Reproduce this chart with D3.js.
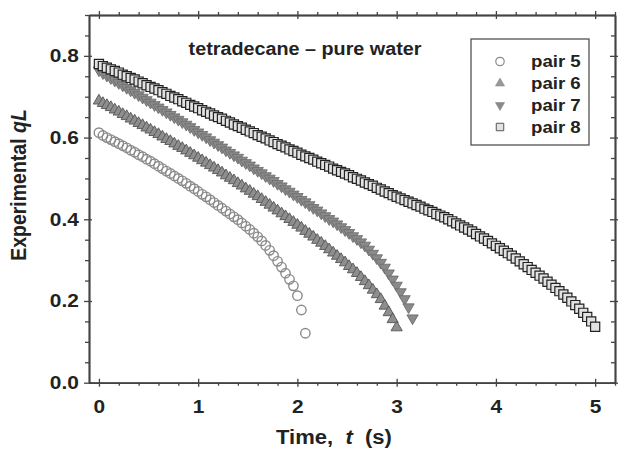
<!DOCTYPE html>
<html><head><meta charset="utf-8">
<script src="https://cdn.jsdelivr.net/npm/d3@7"></script>
<style>
body{margin:0;background:#fff}
svg{display:block}
text{font-family:"Liberation Sans",Arial,sans-serif;font-weight:bold;fill:#222}
</style>
</head><body><svg id="c" width="618" height="454"></svg>
<script>
// time (s), sampled frames
const timeS = [
0,0.04,0.08,0.12,0.16,0.2,0.24,0.28,0.32,0.36,
0.4,0.44,0.48,0.52,0.56,0.6,0.64,0.68,0.72,0.76,
0.8,0.84,0.88,0.92,0.96,1,1.04,1.08,1.12,1.16,
1.2,1.24,1.28,1.32,1.36,1.4,1.44,1.48,1.52,1.56,
1.6,1.64,1.68,1.72,1.76,1.8,1.84,1.88,1.92,1.96,
2,2.04,2.08,2.12,2.16,2.2,2.24,2.28,2.32,2.36,
2.4,2.44,2.48,2.52,2.56,2.6,2.64,2.68,2.72,2.76,
2.8,2.84,2.88,2.92,2.96,3,3.04,3.08,3.12,3.16,
3.2,3.24,3.28,3.32,3.36,3.4,3.44,3.48,3.52,3.56,
3.6,3.64,3.68,3.72,3.76,3.8,3.84,3.88,3.92,3.96,
4,4.04,4.08,4.12,4.16,4.2,4.24,4.28,4.32,4.36,
4.4,4.44,4.48,4.52,4.56,4.6,4.64,4.68,4.72,4.76,
4.8,4.84,4.88,4.92,4.96,5];

const pair5 = [
0.612,0.605,0.600,0.595,0.590,0.585,0.580,0.575,0.569,0.564,
0.558,0.553,0.547,0.542,0.536,0.530,0.524,0.518,0.512,0.506,
0.500,0.494,0.488,0.481,0.475,0.468,0.461,0.455,0.448,0.441,
0.434,0.427,0.420,0.413,0.406,0.399,0.391,0.383,0.375,0.366,
0.357,0.347,0.336,0.324,0.311,0.297,0.283,0.268,0.253,0.237,
0.213,0.178,0.121];

const pair6 = [
0.690,0.684,0.679,0.674,0.668,0.663,0.657,0.652,0.646,0.641,
0.635,0.630,0.624,0.619,0.613,0.608,0.602,0.596,0.591,0.585,
0.579,0.574,0.568,0.562,0.556,0.550,0.544,0.538,0.532,0.526,
0.520,0.514,0.507,0.501,0.495,0.488,0.482,0.475,0.469,0.462,
0.456,0.449,0.442,0.435,0.428,0.421,0.414,0.407,0.400,0.393,
0.386,0.379,0.371,0.364,0.357,0.349,0.342,0.334,0.326,0.318,
0.310,0.302,0.294,0.285,0.277,0.268,0.258,0.248,0.238,0.227,
0.216,0.204,0.188,0.172,0.155,0.135];

const pair7 = [
0.765,0.758,0.752,0.746,0.740,0.734,0.728,0.722,0.716,0.710,
0.704,0.698,0.692,0.686,0.680,0.674,0.668,0.662,0.656,0.650,
0.644,0.638,0.632,0.626,0.619,0.613,0.607,0.601,0.594,0.588,
0.582,0.576,0.569,0.563,0.557,0.551,0.544,0.538,0.532,0.525,
0.519,0.513,0.506,0.500,0.494,0.487,0.481,0.474,0.468,0.461,
0.455,0.448,0.442,0.435,0.428,0.422,0.415,0.408,0.401,0.395,
0.388,0.381,0.374,0.367,0.359,0.352,0.344,0.336,0.326,0.316,
0.305,0.294,0.282,0.268,0.253,0.238,0.222,0.205,0.185,0.158];

const pair8 = [
0.780,0.775,0.771,0.767,0.763,0.759,0.754,0.750,0.746,0.742,
0.737,0.733,0.728,0.724,0.720,0.716,0.711,0.707,0.702,0.698,
0.694,0.689,0.685,0.680,0.676,0.672,0.667,0.663,0.659,0.654,
0.650,0.646,0.641,0.637,0.632,0.628,0.624,0.619,0.615,0.611,
0.606,0.602,0.598,0.593,0.589,0.584,0.580,0.576,0.571,0.567,
0.563,0.558,0.554,0.550,0.546,0.541,0.537,0.533,0.529,0.524,
0.520,0.516,0.512,0.508,0.503,0.499,0.495,0.490,0.486,0.482,
0.477,0.473,0.468,0.464,0.459,0.455,0.451,0.447,0.443,0.439,
0.435,0.431,0.426,0.422,0.418,0.413,0.409,0.405,0.400,0.395,
0.390,0.385,0.380,0.375,0.370,0.364,0.358,0.353,0.347,0.341,
0.335,0.329,0.323,0.317,0.311,0.304,0.297,0.290,0.283,0.276,
0.269,0.262,0.255,0.247,0.240,0.232,0.224,0.216,0.208,0.199,
0.190,0.181,0.171,0.161,0.150,0.137];

const seriesNames = ["pair 5","pair 6","pair 7","pair 8"];
const xTicks = [0,1,2,3,4,5];
const xTickLabels = ["0","1","2","3","4","5"];
const yTicks = [0,0.2,0.4,0.6,0.8];
const yTickLabels = ["0.0","0.2","0.4","0.6","0.8"];

const svg = d3.select("#c");
const x = d3.scaleLinear().domain([-0.1,5.2]).range([89,615]);
const y = d3.scaleLinear().domain([0,0.9]).range([382.7,15]);
const SX = 1.13;
const axisColor = "#444";

const xMinor = x.ticks(27).filter(v => !xTicks.some(t => Math.abs(t - v) < 1e-9));
const yMinor = y.ticks(18).filter(v => !yTicks.some(t => Math.abs(t - v) < 1e-9));

function addAxis(gen, tx, ty) {
  const g = svg.append("g").attr("transform", `translate(${tx},${ty})`).attr("color", axisColor).call(gen);
  g.selectAll("line").attr("stroke-width", 1.3);
  g.select(".domain").attr("stroke-width", 1.5);
  return g;
}

// bottom
const gb = addAxis(d3.axisBottom(x).tickValues(xTicks).tickSize(4).tickSizeOuter(0).tickPadding(13)
  .tickFormat((d,i)=>xTickLabels[i]), 0, y(0));
gb.selectAll("text").attr("fill","#222").style("font-size","18.5px").attr("transform",`scale(${SX},1)`);
addAxis(d3.axisBottom(x).tickValues(xTicks).tickSize(-4).tickSizeOuter(0).tickFormat(""), 0, y(0));
addAxis(d3.axisBottom(x).tickValues(xMinor).tickSize(3).tickSizeOuter(0).tickFormat(""), 0, y(0));
// top
addAxis(d3.axisTop(x).tickValues(xTicks).tickSize(4).tickSizeOuter(0).tickFormat(""), 0, y(0.9));
addAxis(d3.axisTop(x).tickValues(xTicks).tickSize(-4).tickSizeOuter(0).tickFormat(""), 0, y(0.9));
addAxis(d3.axisTop(x).tickValues(xMinor).tickSize(3).tickSizeOuter(0).tickFormat(""), 0, y(0.9));
// left
const gl = addAxis(d3.axisLeft(y).tickValues(yTicks).tickSize(5).tickSizeOuter(0).tickPadding(4)
  .tickFormat((d,i)=>yTickLabels[i]), x(-0.1), 0);
gl.selectAll("text").attr("fill","#222").style("font-size","18.5px").attr("transform",`scale(${SX},1)`);
addAxis(d3.axisLeft(y).tickValues(yTicks).tickSize(-3).tickSizeOuter(0).tickFormat(""), x(-0.1), 0);
addAxis(d3.axisLeft(y).tickValues(yMinor).tickSize(4).tickSizeOuter(0).tickFormat(""), x(-0.1), 0);
// right
addAxis(d3.axisRight(y).tickValues(yTicks).tickSize(-5).tickSizeOuter(0).tickFormat(""), x(5.2), 0);
addAxis(d3.axisRight(y).tickValues(yTicks).tickSize(3).tickSizeOuter(0).tickFormat(""), x(5.2), 0);
addAxis(d3.axisRight(y).tickValues(yMinor).tickSize(-4).tickSizeOuter(0).tickFormat(""), x(5.2), 0);

// series
const triUp = d3.symbol().type(d3.symbolTriangle).size(55)();
const sq = d3.symbol().type(d3.symbolSquare).size(84)();

const data5 = pair5.map((v,i)=>({t:timeS[i], v}));
const data6 = pair6.map((v,i)=>({t:timeS[i], v}));
const data7 = pair7.map((v,i)=>({t:timeS[i], v}));
const data8 = pair8.map((v,i)=>({t:timeS[i], v}));

svg.append("g").selectAll("circle").data(data5).join("circle")
  .attr("cx", d=>x(d.t)).attr("cy", d=>y(d.v)).attr("r", 4.7)
  .attr("fill","none").attr("stroke","#8a8a8a").attr("stroke-width",1.4);

svg.append("g").selectAll("path").data(data6).join("path")
  .attr("d", triUp).attr("transform", d=>`translate(${x(d.t)},${y(d.v)})`)
  .attr("fill","#8e8e8e").attr("stroke","#555").attr("stroke-width",0.9);

svg.append("g").selectAll("path").data(data7).join("path")
  .attr("d", triUp).attr("transform", d=>`translate(${x(d.t)},${y(d.v)}) rotate(180)`)
  .attr("fill","#8a8a8a").attr("stroke","#6e6e6e").attr("stroke-width",0.9);

svg.append("g").selectAll("path").data(data8).join("path")
  .attr("d", sq).attr("transform", d=>`translate(${x(d.t)},${y(d.v)})`)
  .attr("fill","#e2e2e2").attr("stroke","#222").attr("stroke-width",1.2);

// title
svg.append("text").attr("transform",`translate(305,54.5) scale(${SX},1)`)
  .attr("text-anchor","middle").style("font-size","17.5px").text("tetradecane \u2013 pure water");

// legend
const lg = svg.append("g");
lg.append("rect").attr("x",471).attr("y",39).attr("width",118).attr("height",106)
  .attr("fill","#fff").attr("stroke","#444").attr("stroke-width",1.2);
const legY = d3.scalePoint().domain(seriesNames).range([61.5,127]);
const mx = 500;
lg.append("circle").attr("cx",mx).attr("cy",legY("pair 5")).attr("r",4.2)
  .attr("fill","none").attr("stroke","#8a8a8a").attr("stroke-width",1.2);
lg.append("path").attr("d", d3.symbol().type(d3.symbolTriangle).size(36)())
  .attr("transform",`translate(${mx},${legY("pair 6")})`).attr("fill","#999").attr("stroke","#888").attr("stroke-width",0.6);
lg.append("path").attr("d", d3.symbol().type(d3.symbolTriangle).size(36)())
  .attr("transform",`translate(${mx},${legY("pair 7")}) rotate(180)`).attr("fill","#8a8a8a").attr("stroke","#888").attr("stroke-width",0.6);
lg.append("path").attr("d", d3.symbol().type(d3.symbolSquare).size(56)())
  .attr("transform",`translate(${mx},${legY("pair 8")})`).attr("fill","#e2e2e2").attr("stroke","#555").attr("stroke-width",1);
seriesNames.forEach(n=>{
  lg.append("text").attr("transform",`translate(531,${legY(n)}) scale(${SX},1)`)
    .attr("dy","0.36em").style("font-size","16.5px").text(n);
});

// axis titles
const xt = svg.append("text").attr("transform",`translate(334,444) scale(${SX},1)`)
  .attr("text-anchor","middle").style("font-size","19.5px").style("white-space","pre");
xt.append("tspan").text("Time,  ");
xt.append("tspan").style("font-style","italic").text("t");
xt.append("tspan").text("  (s)");

const yt = svg.append("text").attr("transform","translate(26,185) rotate(-90) scale(1,1.12)")
  .attr("text-anchor","middle").style("font-size","19.5px").style("white-space","pre");
yt.append("tspan").text("Experimental ");
yt.append("tspan").style("font-style","italic").text("qL");
</script>
</body></html>
